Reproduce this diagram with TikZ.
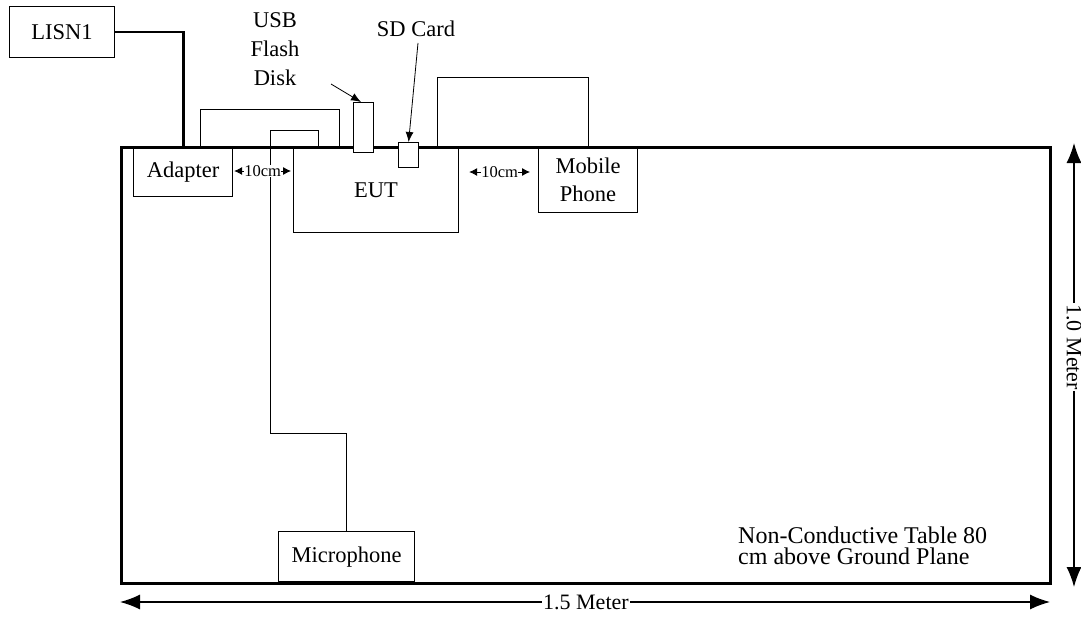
\documentclass[tikz,border=0pt]{standalone}
\usepackage{fontspec}
\setmainfont{Liberation Serif}
\usetikzlibrary{arrows.meta}
\begin{document}
\begin{tikzpicture}[x=1pt,y=-1pt,
  box/.style={draw,line width=1.2pt,inner sep=0pt,anchor=north west,
    font=\fontsize{22.5}{28}\selectfont,align=center},
  cable/.style={line width=0.9pt},
  thickcable/.style={line width=2.8pt},
  lblarrow/.style={line width=0.8pt,-{Latex[length=10pt,width=8pt]}},
  dimarrow/.style={line width=1.3pt,{Latex[length=20pt,width=15pt]}-{Latex[length=20pt,width=15pt]}},
  gap/.style={line width=0.8pt,{Latex[length=8pt,width=8pt]}-{Latex[length=8pt,width=8pt]}},
  gaplabel/.style={fill=white,inner sep=0.3pt,font=\fontsize{16.5}{18}\selectfont},
  lbl/.style={font=\fontsize{22.5}{29}\selectfont,align=center,inner sep=0pt}]
\useasboundingbox (0,0) rectangle (1081,618);
% table
\node[draw,line width=3pt,inner sep=0pt,minimum width=929pt,minimum height=436pt,anchor=north west] (table) at (120,145.5) {};
% boxes
\node[box,minimum width=105pt,minimum height=51pt] (lisn) at (9,6) {LISN1};
\node[box,minimum width=99pt,minimum height=49pt] (adapter) at (133,147) {Adapter};
\node[box,minimum width=165pt,minimum height=85pt] (eut) at (293,147) {EUT};
\node[box,minimum width=99pt,minimum height=65pt] (mobile) at (538,147) {Mobile\\Phone};
\node[box,minimum width=136pt,minimum height=50pt] (mic) at (278,531) {Microphone};
\node[box,minimum width=20pt,minimum height=50pt,fill=white] (usb) at (353,102) {};
\node[box,minimum width=20pt,minimum height=25pt,fill=white] (sd) at (398,142) {};
% labels
\node[lbl] (usblabel) at (275,49) {USB\\Flash\\Disk};
\node[lbl] (sdlabel) at (416,29) {SD Card};
\node[font=\fontsize{24}{21}\selectfont,align=left,anchor=west,inner sep=0pt] (note) at (738,546) {Non-Conductive Table 80\\cm above Ground Plane};
% cables
\draw[thickcable] (lisn.east) -| (adapter.north);
\draw[cable] ([xshift=67pt]adapter.north west) -- ++(0,-38) -| ([xshift=46pt]eut.north west);
\draw[cable] ([xshift=25pt]eut.north west) -- ++(0,-17) -| ++(-48,303) -| (mic.north);
\draw[cable] ([xshift=144pt]eut.north west) -- ++(0,-70) -| (mobile.north);
% label arrows
\coordinate (usbstart) at (331,84);
\coordinate (sdstart) at (418,43);
\draw[lblarrow] (usbstart) -- ([xshift=8pt]usb.north west);
\draw[lblarrow] (sdstart) -- (sd.north);
% 10cm gaps
\draw[gap] ([xshift=1pt,yshift=-24pt]adapter.north east) -- ([xshift=-2pt,yshift=-24pt]eut.north west) node[midway,gaplabel] (gapA) {10cm};
\draw[gap] ([xshift=10pt,yshift=-25pt]eut.north east) -- ([xshift=-8pt,yshift=-25pt]mobile.north west) node[midway,gaplabel] (gapB) {10cm};
% dimensions
\coordinate (hl) at (120,602);
\coordinate (hr) at (1050,602);
\coordinate (vt) at (1074,143);
\coordinate (vb) at (1074,587);
\draw[dimarrow] (hl) -- (hr) node[pos=0.501,fill=white,inner sep=1pt,font=\fontsize{22}{26}\selectfont] (hlabel) {1.5 Meter};
\draw[dimarrow] (vt) -- (vb) node[pos=0.46,fill=white,inner sep=1pt,rotate=-90,font=\fontsize{22}{26}\selectfont] (vlabel) {1.0 Meter};
\end{tikzpicture}
\end{document}
